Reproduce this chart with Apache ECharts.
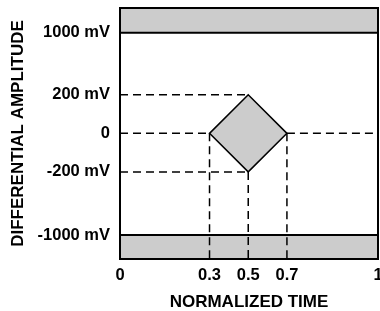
<!DOCTYPE html>
<html>
<head>
<meta charset="utf-8">
<script src="https://cdn.jsdelivr.net/npm/echarts@6/dist/echarts.min.js"></script>
<style>
html, body { margin: 0; padding: 0; background: #fff; }
#main { width: 380px; height: 311px; }
</style>
</head>
<body>
<div id="main"></div>
<script>
// ticks / labels
var xTicks = [0, 0.3, 0.5, 0.7, 1];
var xTickLabels = ['0', '0.3', '0.5', '0.7', '1'];
var yTicks = [-1000, -200, 0, 200, 1000];
var yTickLabels = ['-1000 mV', '-200 mV', '0', '200 mV', '1000 mV'];

// eye mask: diamond (time, mV) and the two forbidden bands (mV from, mV to)
var maskDiamond = [[0.3, 0], [0.5, 200], [0.7, 0], [0.5, -200]];
var maskBands = [[1000, 1330], [-1330, -1000]];

// dashed guide lines, each [[t0, mV0], [t1, mV1]]
var guideLines = [
	[[0, 200], [0.5, 200]],
	[[0, 0], [0.3, 0]],
	[[0.7, 0], [1, 0]],
	[[0, -200], [0.5, -200]],
	[[0.3, 0], [0.3, -1330]],
	[[0.5, -200], [0.5, -1330]],
	[[0.7, 0], [0.7, -1330]]
];
var tRange = [0, 1];
var vRange = [-1330, 1320];

// the drawing is not to scale: piecewise linear warp of both axes
function warp(v, from, to) {
	for (var i = 0; i < from.length - 1; i++) {
		if (v <= from[i + 1] || i == from.length - 2) {
			var f = (v - from[i]) / (from[i + 1] - from[i]);
			return to[i] + f * (to[i + 1] - to[i]);
		}
	}
}
function sx(t) { return warp(t, [0, 0.3, 0.7, 1], [0, 0.347, 0.647, 1]); }
function sy(v) { return warp(v, [-1330, -1000, -200, 200, 1000, 1330], [-126, -102, -39, 38, 100, 125.5]); }

var font = 'Liberation Sans';
var chart = echarts.init(document.getElementById('main'), null, { renderer: 'canvas' });

var series = [];
series.push({
	type: 'custom',
	renderItem: function(params, api) {
		var b = maskBands[params.dataIndex];
		var p0 = api.coord([sx(tRange[0]), sy(b[1])]);
		var p1 = api.coord([sx(tRange[1]), sy(b[0])]);
		return {
			type: 'rect',
			shape: { x: p0[0], y: p0[1], width: p1[0] - p0[0], height: p1[1] - p0[1] },
			style: { fill: '#cccccc', stroke: '#000', lineWidth: 2 }
		};
	},
	clip: true,
	data: maskBands.map(function(b, i) { return [i]; }),
	z: 1
});
guideLines.forEach(function(seg) {
	series.push({
		type: 'line',
		data: seg.map(function(p) { return [sx(p[0]), sy(p[1])]; }),
		symbol: 'none',
		lineStyle: { color: '#000', width: 1.5, type: [8, 5] },
		silent: true,
		z: 3
	});
});
series.push({
	type: 'custom',
	renderItem: function(params, api) {
		var pts = maskDiamond.map(function(p) { return api.coord([sx(p[0]), sy(p[1])]); });
		return {
			type: 'polygon',
			shape: { points: pts },
			style: { fill: '#cccccc', stroke: '#000', lineWidth: 1.5 }
		};
	},
	data: [[0]],
	z: 4
});

var option = {
	animation: false,
	grid: {
		left: 120, right: 2, top: 8, bottom: 52,
		outerBoundsMode: 'none', containLabel: false,
		show: true, borderColor: '#000', borderWidth: 2, backgroundColor: 'transparent', z: 10
	},
	xAxis: {
		type: 'value',
		min: sx(tRange[0]), max: sx(tRange[1]),
		name: 'NORMALIZED TIME',
		nameLocation: 'middle',
		nameGap: 35,
		nameTextStyle: { fontFamily: font, fontWeight: 'bold', fontSize: 17, color: '#000' },
		axisLine: { show: false },
		axisTick: { show: false },
		splitLine: { show: false },
		axisLabel: {
			customValues: xTicks.map(sx),
			formatter: function(v) {
				for (var i = 0; i < xTicks.length; i++) if (Math.abs(sx(xTicks[i]) - v) < 1e-6) return xTickLabels[i];
				return '';
			},
			margin: 8,
			fontFamily: font, fontWeight: 'bold', fontSize: 16.5, color: '#000'
		}
	},
	yAxis: {
		type: 'value',
		min: sy(vRange[0]), max: sy(vRange[1]),
		name: 'DIFFERENTIAL AMPLITUDE',
		nameLocation: 'middle',
		nameGap: 93,
		nameTextStyle: { fontFamily: font, fontWeight: 'bold', fontSize: 17, color: '#000' },
		axisLine: { show: false },
		axisTick: { show: false },
		splitLine: { show: false },
		axisLabel: {
			customValues: yTicks.map(sy),
			formatter: function(v) {
				for (var i = 0; i < yTicks.length; i++) if (Math.abs(sy(yTicks[i]) - v) < 1e-6) return yTickLabels[i];
				return '';
			},
			margin: 10,
			fontFamily: font, fontWeight: 'bold', fontSize: 16.5, color: '#000'
		}
	},
	series: series
};
chart.setOption(option);
</script>
</body>
</html>
